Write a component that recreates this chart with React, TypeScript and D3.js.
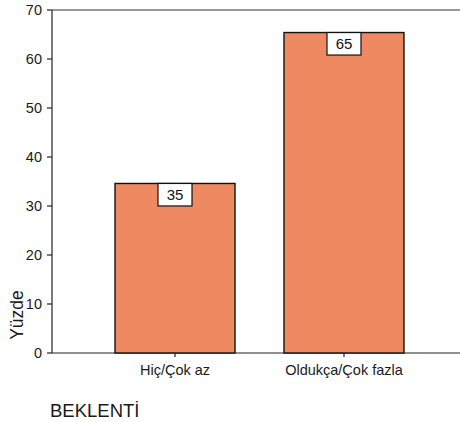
import React from "react";
import * as d3 from "d3";

const categories = ["Hiç/Çok az", "Oldukça/Çok fazla"];
const percents = [34.6, 65.4];
const yTicks = [0, 10, 20, 30, 40, 50, 60, 70];

const W = 460;
const H = 422;
const left = 52;
const top = 10;
const bottom = 353;
const right = 467;

export default function App() {
  const y = d3.scaleLinear().domain([0, 70]).range([bottom, top]);
  const x = d3
    .scaleBand<string>()
    .domain(categories)
    .range([left, right])
    .paddingInner(0.29)
    .paddingOuter(0.373);
  const bw = x.bandwidth();
  const font = "Liberation Sans, Arial, sans-serif";

  return (
    <svg
      width={W}
      height={H}
      style={{ position: "absolute", left: 0, top: 0, background: "#fff" }}
      fontFamily={font}
    >
      {/* frame lines */}
      <line x1={left} x2={W} y1={top} y2={top} stroke="#333" strokeWidth={1.2} />
      <line x1={left} x2={W} y1={bottom} y2={bottom} stroke="#222" strokeWidth={1.2} />
      <line x1={left} x2={left} y1={top} y2={bottom} stroke="#222" strokeWidth={1.2} />

      {/* y ticks */}
      {yTicks.map((t) => (
        <g key={t}>
          <line x1={left - 5} x2={left} y1={y(t)} y2={y(t)} stroke="#222" strokeWidth={1.2} />
          <text x={42} y={y(t)} dy="0.36em" textAnchor="end" fontSize={14.5} fill="#1a1a1a">
            {t}
          </text>
        </g>
      ))}

      {/* bars */}
      {categories.map((c, i) => {
        const x0 = x(c)!;
        const cx = x0 + bw / 2;
        const yTop = y(percents[i]);
        return (
          <g key={c}>
            <rect
              x={x0}
              y={yTop}
              width={bw}
              height={bottom - yTop}
              fill="#EF8961"
              stroke="#111"
              strokeWidth={1.4}
            />
            <rect
              x={cx - 17}
              y={yTop}
              width={34}
              height={22.5}
              fill="#fff"
              stroke="#111"
              strokeWidth={1.2}
            />
            <text x={cx} y={yTop + 11.5} dy="0.36em" textAnchor="middle" fontSize={15} fill="#111">
              {Math.round(percents[i])}
            </text>
            <line x1={cx} x2={cx} y1={bottom} y2={bottom + 4} stroke="#222" strokeWidth={1.2} />
            <text x={cx} y={375} textAnchor="middle" fontSize={14.5} fill="#1a1a1a">
              {c}
            </text>
          </g>
        );
      })}

      {/* axis titles */}
      <text
        transform={`translate(23, 315) rotate(-90)`}
        textAnchor="middle"
        fontSize={17.5}
        fill="#1a1a1a"
      >
        Yüzde
      </text>
      <text x={50} y={417} fontSize={18.5} fill="#1a1a1a">
        BEKLENTİ
      </text>
    </svg>
  );
}
